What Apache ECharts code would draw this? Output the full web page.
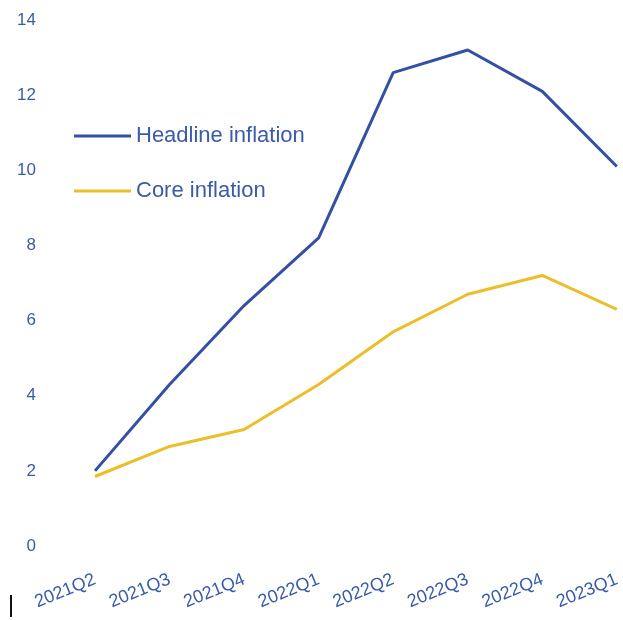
<!DOCTYPE html>
<html><head><meta charset="utf-8">
<script src="https://cdn.jsdelivr.net/npm/echarts@6/dist/echarts.min.js"></script>
<style>html,body{margin:0;padding:0;background:#fff}#c{width:623px;height:620px}</style>
</head><body><div id="c"></div>
<script>
var categories = ['2021Q2','2021Q3','2021Q4','2022Q1','2022Q2','2022Q3','2022Q4','2023Q1'];
var headline = [2.0, 4.3, 6.4, 8.2, 12.6, 13.2, 12.1, 10.1];
var core = [1.85, 2.65, 3.1, 4.3, 5.7, 6.7, 7.2, 6.3];
var yTicks = {min: 0, max: 14, interval: 2};

var chart = echarts.init(document.getElementById('c'));
chart.setOption({
  animation: false,
  grid: {left: 95, right: 3, top: 20, bottom: 74},
  legend: {
    orient: 'vertical', left: 69, top: 120,
    itemWidth: 57, itemHeight: 22, itemGap: 33,
    textStyle: {color: '#3a5ba8', fontSize: 22, fontFamily: 'Liberation Sans'},
    data: [
      {name: 'Headline inflation', icon: 'path://M0,9.5L57,9.5L57,12.5L0,12.5Z'},
      {name: 'Core inflation', icon: 'path://M0,9.5L57,9.5L57,12.5L0,12.5Z'}
    ]
  },
  xAxis: {
    type: 'category', data: categories, boundaryGap: false,
    axisLine: {show: false}, axisTick: {show: false},
    axisLabel: {rotate: 22, margin: 33, color: '#3a5ba8', fontSize: 18, fontFamily: 'Liberation Sans', interval: 0}
  },
  yAxis: {
    type: 'value', min: yTicks.min, max: yTicks.max, interval: yTicks.interval,
    splitLine: {show: false}, axisLine: {show: false}, axisTick: {show: false},
    axisLabel: {margin: 59, color: '#3a5ba8', fontSize: 17, fontFamily: 'Liberation Sans'}
  },
  series: [
    {name: 'Headline inflation', type: 'line', data: headline, symbol: 'none',
     lineStyle: {color: '#3450a3', width: 3}, itemStyle: {color: '#3450a3'}},
    {name: 'Core inflation', type: 'line', data: core, symbol: 'none',
     lineStyle: {color: '#ecbe2c', width: 3}, itemStyle: {color: '#ecbe2c'}}
  ],
  graphic: [{type: 'line', shape: {x1: 11, y1: 595, x2: 11, y2: 617}, style: {stroke: '#111', lineWidth: 2}}]
});
</script></body></html>
